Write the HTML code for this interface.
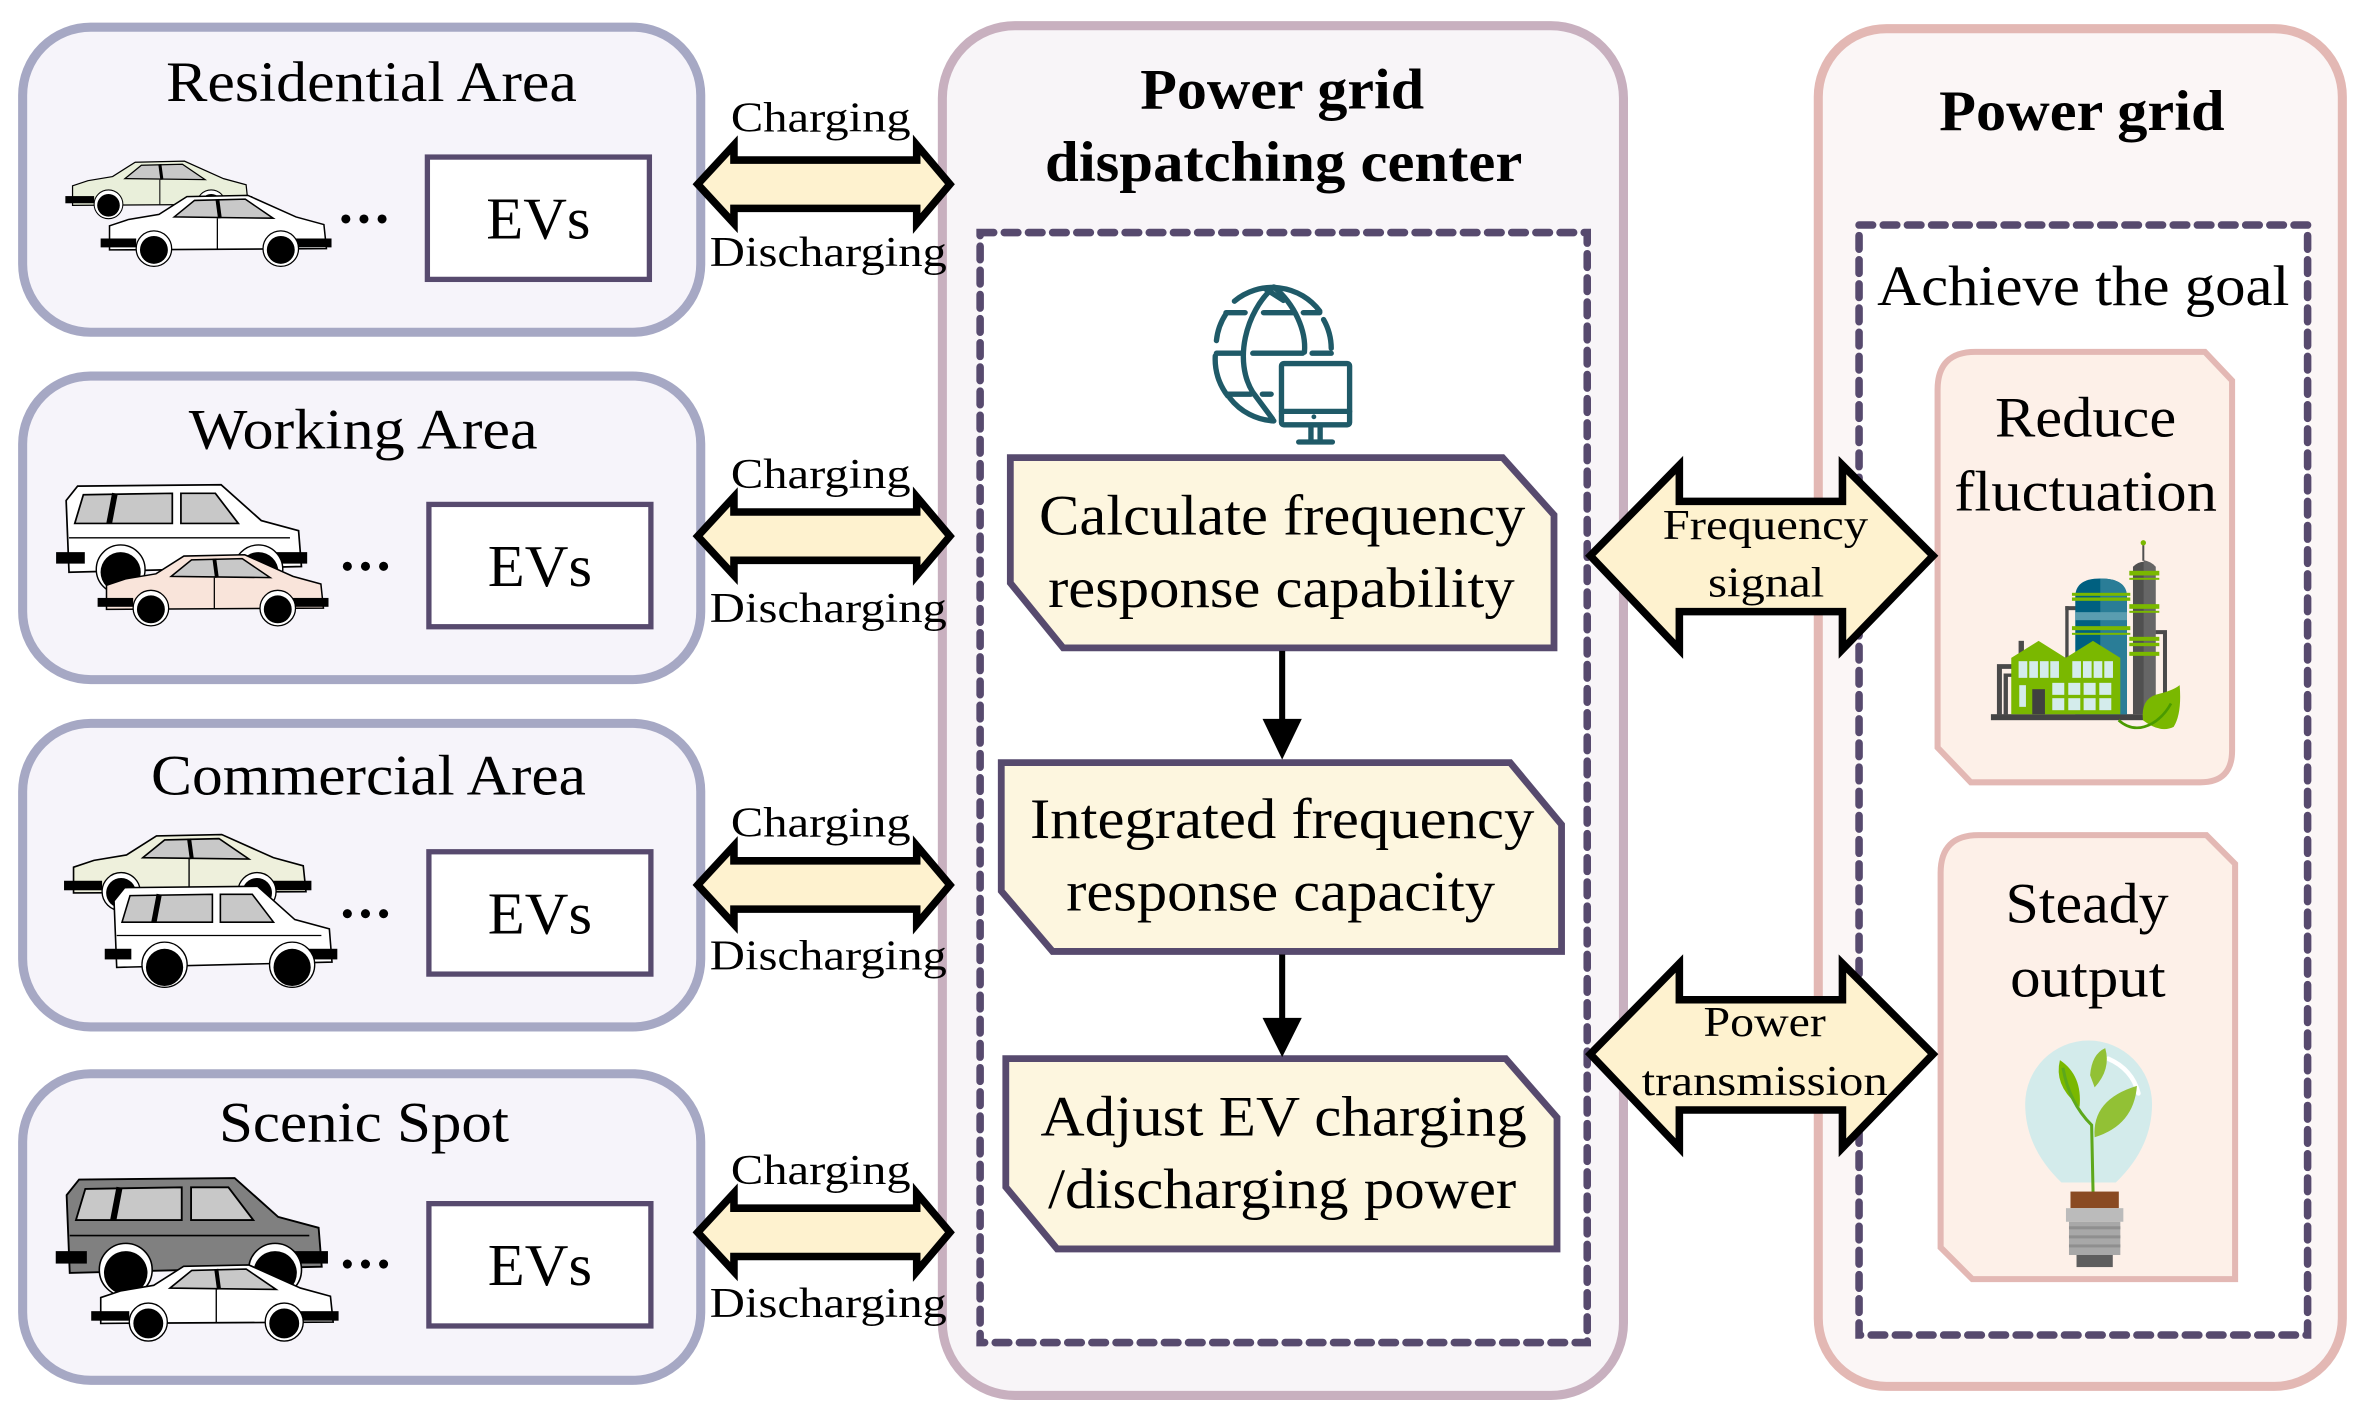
<!DOCTYPE html>
<html><head><meta charset="utf-8"><style>
html,body{margin:0;padding:0;background:#fff;}
svg{display:block;}
text{font-family:"Liberation Serif","Times New Roman",serif;fill:#000;}
</style></head><body>
<svg width="2368" height="1419" viewBox="0 0 1568 939.6" preserveAspectRatio="none" xmlns="http://www.w3.org/2000/svg">
<defs>
<g id="sedan">
<path d="M3,28 L18,23 L42,19 L64,5 L112,4 L150,21 L172,27 L174,46 L3,47 Z" stroke="#000" stroke-width="1.2"/>
<path d="M54,21 L70,8 L110,7 L132,22 Z" fill="#c8c8c8" stroke="#000" stroke-width="1.2"/>
<line x1="88" y1="7" x2="90" y2="22" stroke="#000" stroke-width="3"/>
<line x1="88" y1="22" x2="88" y2="46" stroke="#000" stroke-width="1"/>
<rect x="-4" y="38" width="28" height="7" fill="#000"/>
<rect x="150" y="38" width="28" height="7" fill="#000"/>
<circle cx="38" cy="46" r="14" fill="#fff" stroke="#000" stroke-width="1"/>
<circle cx="38" cy="47" r="11" fill="#000"/>
<circle cx="138" cy="46" r="14" fill="#fff" stroke="#000" stroke-width="1"/>
<circle cx="138" cy="47" r="11" fill="#000"/>
</g>
<g id="van">
<path d="M4,12 L12,2 L112,1 L140,26 L166,33 L168,58 L6,62 Z" stroke="#000" stroke-width="1.2"/>
<path d="M16,8 L78,7 L78,28 L10,28 Z" fill="#c8c8c8" stroke="#000" stroke-width="1.2"/>
<path d="M84,7 L108,7 L124,28 L84,28 Z" fill="#c8c8c8" stroke="#000" stroke-width="1.2"/>
<line x1="38" y1="7" x2="34" y2="28" stroke="#000" stroke-width="4"/>
<line x1="6" y1="38" x2="160" y2="38" stroke="#000" stroke-width="1"/>
<rect x="-3" y="48" width="20" height="8" fill="#000"/>
<rect x="150" y="48" width="22" height="8" fill="#000"/>
<circle cx="42" cy="60" r="17" fill="#fff" stroke="#000" stroke-width="1"/>
<circle cx="42" cy="62" r="14" fill="#000"/>
<circle cx="138" cy="60" r="17" fill="#fff" stroke="#000" stroke-width="1"/>
<circle cx="138" cy="62" r="14" fill="#000"/>
</g>
</defs>

<!-- left area boxes -->
<g stroke="#a6a8c4" stroke-width="6" fill="#f6f4fa">
<rect x="15" y="18" width="449" height="202" rx="45"/>
<rect x="15" y="249" width="449" height="201" rx="45"/>
<rect x="15" y="479" width="449" height="201" rx="45"/>
<rect x="15" y="711" width="449" height="203" rx="45"/>
</g>
<g font-size="38" lengthAdjust="spacingAndGlyphs">
<text x="110" y="67" textLength="272" lengthAdjust="spacingAndGlyphs">Residential Area</text>
<text x="125" y="297" textLength="231" lengthAdjust="spacingAndGlyphs">Working Area</text>
<text x="100" y="526" textLength="288" lengthAdjust="spacingAndGlyphs">Commercial Area</text>
<text x="145" y="756" textLength="192" lengthAdjust="spacingAndGlyphs">Scenic Spot</text>
</g>
<g fill="#fff" stroke="#574a6e" stroke-width="3.5">
<rect x="283" y="104" width="147" height="81"/>
<rect x="284" y="334" width="147" height="81"/>
<rect x="284" y="564" width="147" height="81"/>
<rect x="284" y="797" width="147" height="81"/>
</g>
<g font-size="39">
<text x="322" y="158" textLength="69" lengthAdjust="spacingAndGlyphs">EVs</text>
<text x="323" y="388" textLength="69" lengthAdjust="spacingAndGlyphs">EVs</text>
<text x="323" y="618" textLength="69" lengthAdjust="spacingAndGlyphs">EVs</text>
<text x="323" y="851" textLength="69" lengthAdjust="spacingAndGlyphs">EVs</text>
</g>
<g fill="#000">
<circle cx="229" cy="145" r="3"/><circle cx="241" cy="145" r="3"/><circle cx="253" cy="145" r="3"/>
<circle cx="230" cy="375" r="3"/><circle cx="242" cy="375" r="3"/><circle cx="254" cy="375" r="3"/>
<circle cx="230" cy="605" r="3"/><circle cx="242" cy="605" r="3"/><circle cx="254" cy="605" r="3"/>
<circle cx="230" cy="837" r="3"/><circle cx="242" cy="837" r="3"/><circle cx="254" cy="837" r="3"/>
</g>
<!-- cars -->
<use href="#sedan" fill="#e9efda" transform="translate(46,104) scale(0.68)"/>
<use href="#sedan" fill="#fff" transform="translate(70,126) scale(0.84)"/>
<use href="#van" fill="#fff" transform="translate(40,320) scale(0.95)"/>
<use href="#sedan" fill="#f9e4da" transform="translate(68,364) scale(0.84)"/>
<use href="#sedan" fill="#eef0dc" transform="translate(46,549) scale(0.9)"/>
<use href="#van" fill="#fff" transform="translate(72,586) scale(0.88)"/>
<use href="#van" fill="#808080" transform="translate(40,779) scale(1.03)"/>
<use href="#sedan" fill="#fff" transform="translate(64,834) scale(0.9)"/>

<!-- center panel -->
<rect x="624" y="17" width="451" height="907" rx="48" fill="#f8f5f8" stroke="#c8b0bf" stroke-width="6"/>
<text x="755" y="72" font-size="38" font-weight="bold" textLength="188" lengthAdjust="spacingAndGlyphs">Power grid</text>
<text x="692" y="120" font-size="38" font-weight="bold" textLength="316" lengthAdjust="spacingAndGlyphs">dispatching center</text>
<rect x="649" y="154" width="402" height="735" fill="#fff" stroke="#574a6e" stroke-width="5" stroke-dasharray="9 7" stroke-linecap="round"/>

<!-- left double arrows (on top of panel) -->
<g fill="#fef2cf" stroke="#000" stroke-width="5" stroke-linejoin="miter">
<path d="M462,122 L486,96 L486,106 L607,106 L607,96 L629,122 L607,148 L607,138 L486,138 L486,148 Z"/>
<path d="M462,355 L486,329 L486,339 L607,339 L607,329 L629,355 L607,381 L607,371 L486,371 L486,381 Z"/>
<path d="M462,586 L486,560 L486,570 L607,570 L607,560 L629,586 L607,612 L607,602 L486,602 L486,612 Z"/>
<path d="M462,816 L486,790 L486,800 L607,800 L607,790 L629,816 L607,842 L607,832 L486,832 L486,842 Z"/>
</g>
<g font-size="28">
<text x="484" y="87" textLength="119" lengthAdjust="spacingAndGlyphs">Charging</text><text x="470" y="176" textLength="157" lengthAdjust="spacingAndGlyphs">Discharging</text>
<text x="484" y="323" textLength="119" lengthAdjust="spacingAndGlyphs">Charging</text><text x="470" y="412" textLength="157" lengthAdjust="spacingAndGlyphs">Discharging</text>
<text x="484" y="554" textLength="119" lengthAdjust="spacingAndGlyphs">Charging</text><text x="470" y="642" textLength="157" lengthAdjust="spacingAndGlyphs">Discharging</text>
<text x="484" y="784" textLength="119" lengthAdjust="spacingAndGlyphs">Charging</text><text x="470" y="872" textLength="157" lengthAdjust="spacingAndGlyphs">Discharging</text>
</g>

<!-- globe icon -->
<g transform="translate(662.3,145.7) scale(0.2534)" fill="none" stroke="#1f5a68" stroke-width="14" stroke-linecap="round">
<path d="M612,212 A155,155 0 0 1 835,238"/>
<path d="M565,315 A155,155 0 0 1 590,245"/>
<path d="M595,460 A155,155 0 0 1 562,355"/>
<path d="M715,525 A155,155 0 0 1 600,465"/>
<path d="M865,335 A155,155 0 0 0 845,260"/>
<path d="M715,175 C640,240 610,370 660,450 L712,520"/>
<path d="M715,175 C770,220 800,290 795,345"/>
<path d="M690,178 L740,210"/>
<line x1="590" y1="242" x2="640" y2="242"/><line x1="688" y1="242" x2="770" y2="242"/><line x1="792" y1="242" x2="835" y2="242"/>
<line x1="565" y1="348" x2="630" y2="348"/><line x1="660" y1="348" x2="790" y2="348"/><line x1="815" y1="348" x2="865" y2="348"/>
<line x1="595" y1="455" x2="655" y2="455"/><line x1="685" y1="455" x2="708" y2="455"/>
<rect x="735" y="375" width="178" height="160" rx="6"/>
<line x1="735" y1="500" x2="913" y2="500"/>
<line x1="812" y1="538" x2="812" y2="575"/><line x1="836" y1="538" x2="836" y2="575"/>
<line x1="780" y1="580" x2="868" y2="580"/>
</g>
<circle cx="870" cy="276" r="1.6" fill="#1f5a68"/>

<!-- process boxes -->
<g fill="#fdf6df" stroke="#574a6e" stroke-width="4.5" stroke-linejoin="miter">
<path d="M669,303 L995,303 L1029,341 L1029,429 L704,429 L669,386 Z"/>
<path d="M663,505 L1000,505 L1034,546 L1034,630 L697,630 L663,590 Z"/>
<path d="M666,701 L997,701 L1031,740 L1031,827 L700,827 L666,786 Z"/>
</g>
<g font-size="38">
<text x="688" y="354" textLength="322" lengthAdjust="spacingAndGlyphs">Calculate frequency</text>
<text x="694" y="402" textLength="309" lengthAdjust="spacingAndGlyphs">response capability</text>
<text x="682" y="555" textLength="334" lengthAdjust="spacingAndGlyphs">Integrated frequency</text>
<text x="706" y="603" textLength="284" lengthAdjust="spacingAndGlyphs">response capacity</text>
<text x="689" y="752" textLength="322" lengthAdjust="spacingAndGlyphs">Adjust EV charging</text>
<text x="694" y="800" textLength="310" lengthAdjust="spacingAndGlyphs">/discharging power</text>
</g>
<g stroke="#000" stroke-width="4"><line x1="849" y1="431" x2="849" y2="478"/><line x1="849" y1="632" x2="849" y2="676"/></g>
<g fill="#000"><path d="M836,476 L862,476 L849,503 Z"/><path d="M836,674 L862,674 L849,700 Z"/></g>

<!-- right panel -->
<rect x="1204" y="19" width="347" height="899" rx="45" fill="#fbf6f6" stroke="#e3b8b4" stroke-width="6"/>
<text x="1284" y="86" font-size="38" font-weight="bold" textLength="189" lengthAdjust="spacingAndGlyphs">Power grid</text>
<rect x="1231" y="149" width="297" height="735" fill="#fff" stroke="#574a6e" stroke-width="5" stroke-dasharray="9 7" stroke-linecap="round"/>
<text x="1243" y="202" font-size="38" textLength="273" lengthAdjust="spacingAndGlyphs">Achieve the goal</text>
<g fill="#fdf0e8" stroke="#e3b8b4" stroke-width="4">
<path d="M1308,233 L1460,233 L1478,252 L1478,497 Q1478,518 1457,518 L1305,518 L1283,495 L1283,258 Q1283,233 1308,233 Z"/>
<path d="M1310,553 L1461,553 L1480,572 L1480,847 L1306,847 L1285,826 L1285,578 Q1285,553 1310,553 Z"/>
</g>
<g font-size="38">
<text x="1321" y="289" textLength="120" lengthAdjust="spacingAndGlyphs">Reduce</text>
<text x="1294" y="338" textLength="174" lengthAdjust="spacingAndGlyphs">fluctuation</text>
<text x="1328" y="611" textLength="108" lengthAdjust="spacingAndGlyphs">Steady</text>
<text x="1331" y="660" textLength="103" lengthAdjust="spacingAndGlyphs">output</text>
</g>
<!-- factory -->
<g transform="translate(1298,344.4) scale(0.2208)">
<rect x="92" y="582" width="460" height="18" fill="#444"/>
<path d="M110,585 L110,432 L155,432 L155,446 L125,446 L125,585 Z" fill="#4a4a4a"/>
<path d="M130,585 L130,460 L155,460 L155,470 L143,470 L143,585 Z" fill="#4a4a4a"/>
<rect x="315" y="258" width="35" height="12" fill="#4a4a4a"/><rect x="315" y="258" width="10" height="160" fill="#4a4a4a"/>
<path d="M345,582 L345,230 Q345,175 420,175 Q500,175 500,230 L500,582 Z" fill="#006080"/>
<path d="M420,175 Q500,175 500,230 L500,582 L420,582 Z" fill="#2a7d97"/>
<rect x="345" y="276" width="155" height="24" fill="#5a9db0"/>
<g fill="#7ab800"><rect x="335" y="218" width="175" height="9"/><rect x="335" y="232" width="175" height="10"/><rect x="335" y="318" width="175" height="12"/><rect x="335" y="338" width="175" height="6"/></g>
<path d="M518,582 L518,140 Q548,110 586,140 L586,582 Z" fill="#505050"/>
<path d="M550,120 Q575,125 586,140 L586,582 L550,582 Z" fill="#666"/>
<rect x="546" y="72" width="6" height="50" fill="#505050"/><circle cx="549" cy="68" r="8" fill="#7ab800"/>
<path d="M586,330 L620,330 L620,520 L608,520 L608,342 L586,342 Z" fill="#4a4a4a"/>
<g fill="#7ab800"><rect x="507" y="152" width="90" height="14"/><rect x="507" y="173" width="90" height="6"/><rect x="507" y="252" width="90" height="14"/><rect x="507" y="272" width="90" height="6"/><rect x="507" y="350" width="90" height="12"/><rect x="507" y="368" width="90" height="10"/><rect x="507" y="395" width="90" height="12"/></g>
<rect x="175" y="362" width="16" height="50" fill="#4a4a4a"/>
<path d="M153,582 L153,413 L235,362 L316,413 L398,362 L480,413 L480,582 Z" fill="#7ab800"/>
<g fill="#d4ecec"><rect x="175" y="423" width="26" height="50"/><rect x="207" y="423" width="26" height="50"/><rect x="239" y="423" width="26" height="50"/><rect x="270" y="423" width="26" height="50"/><rect x="336" y="423" width="26" height="50"/><rect x="368" y="423" width="26" height="50"/><rect x="400" y="423" width="26" height="50"/><rect x="432" y="423" width="26" height="50"/>
<rect x="177" y="495" width="20" height="65"/>
<rect x="276" y="488" width="36" height="36"/><rect x="324" y="488" width="36" height="36"/><rect x="370" y="488" width="36" height="36"/><rect x="417" y="488" width="36" height="36"/>
<rect x="276" y="534" width="36" height="36"/><rect x="324" y="534" width="36" height="36"/><rect x="370" y="534" width="36" height="36"/><rect x="417" y="534" width="36" height="36"/></g>
<rect x="216" y="507" width="38" height="75" fill="#404040"/>
<path d="M548,600 Q540,530 600,520 Q640,510 658,495 Q665,580 640,620 Q600,640 548,600 Z" fill="#7ab800"/>
<path d="M475,600 Q520,640 575,610 Q610,590 632,550" fill="none" stroke="#4a9a00" stroke-width="8"/>
</g>
<!-- bulb -->
<g>
<path d="M1365,783 Q1341,760 1341,731 A42,42 0 0 1 1425,731 Q1425,760 1401,783 Z" fill="#d3ebeb"/>
<path d="M1396,701 Q1412,708 1416,724" fill="none" stroke="#fff" stroke-width="3" stroke-linecap="round"/>
<path d="M1375,731 Q1360,718 1364,702 Q1379,712 1377,733 Z" fill="#7ab800"/>
<path d="M1384,712 Q1385,698 1394,694 Q1398,708 1387,720 Z" fill="#92c135"/>
<path d="M1387,753 Q1385,728 1415,719 Q1413,745 1387,753 Z" fill="#92c135"/>
<path d="M1366,707 Q1370,730 1385,745 L1386,792" fill="none" stroke="#5da81c" stroke-width="2"/>
<rect x="1371" y="789" width="32" height="11" fill="#8a4a22"/>
<rect x="1368" y="800" width="38" height="9" fill="#bbb"/>
<rect x="1370" y="809" width="34" height="22" fill="#a8a8a8"/>
<g fill="#8f8f8f"><rect x="1370" y="812" width="34" height="2"/><rect x="1370" y="818" width="34" height="2"/><rect x="1370" y="824" width="34" height="2"/></g>
<rect x="1375" y="831" width="24" height="8" fill="#5e5e5e"/>
</g>

<!-- big arrows -->
<g fill="#fef2cf" stroke="#000" stroke-width="5" stroke-linejoin="miter">
<path d="M1053,368 L1112,308 L1112,332 L1220,332 L1220,308 L1280,368 L1220,430 L1220,405 L1112,405 L1112,430 Z"/>
<path d="M1053,698 L1112,638 L1112,662 L1220,662 L1220,638 L1280,698 L1220,760 L1220,735 L1112,735 L1112,760 Z"/>
</g>
<g font-size="28">
<text x="1101" y="357" textLength="136" lengthAdjust="spacingAndGlyphs">Frequency</text>
<text x="1131" y="395" textLength="77" lengthAdjust="spacingAndGlyphs">signal</text>
<text x="1128" y="686" textLength="81" lengthAdjust="spacingAndGlyphs">Power</text>
<text x="1087" y="725" textLength="163" lengthAdjust="spacingAndGlyphs">transmission</text>
</g>
</svg>
</body></html>
